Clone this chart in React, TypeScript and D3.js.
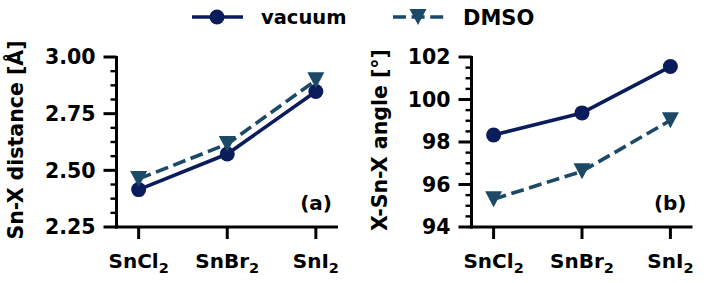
import React from 'react';
import * as d3 from 'd3';

const categories = ['SnCl', 'SnBr', 'SnI'];
const distVacuum = [2.415, 2.572, 2.848];
const distDMSO = [2.462, 2.616, 2.897];
const angleVacuum = [98.33, 99.37, 101.55];
const angleDMSO = [95.31, 96.62, 99.02];

const distTicks = [2.25, 2.5, 2.75, 3.0];
const angleTicks = [94, 96, 98, 100, 102];

const seriesNames = ['vacuum', 'DMSO'];
const VAC = '#0b1c5c';
const DMSO = '#1c4a66';
const FONT = '"DejaVu Sans", sans-serif';

const W = 706;
const H = 283;
const TOP = 57;
const BOTTOM = 227;

interface PanelProps {
  x0: number;
  x1: number;
  domain: [number, number];
  ticks: number[];
  fmt: (v: number) => string;
  vac: number[];
  dmso: number[];
  ylabel: string;
  labelX: number;
  tag: string;
}

const triangle = (s: number) => `M${-s / 2},${-s / 2 + 0.5}L${s / 2},${-s / 2 + 0.5}L0,${s / 2 - 0.5}Z`;

const Panel: React.FC<PanelProps> = ({ x0, x1, domain, ticks, fmt, vac, dmso, ylabel, labelX, tag }) => {
  const x = d3.scaleLinear().domain([-0.25, 2.25]).range([x0, x1]);
  const y = d3.scaleLinear().domain(domain).range([BOTTOM, TOP]);
  const step = ticks[1] - ticks[0];
  const minor: number[] = [];
  for (let i = 0; i < ticks.length - 1; i++) {
    for (let k = 1; k < 4; k++) minor.push(ticks[i] + (step * k) / 4);
  }
  const line = d3.line<number>().x((_, i) => x(i)).y(d => y(d));

  return (
    <g>
      {/* data */}
      <path d={line(vac) || ''} fill="none" stroke={VAC} strokeWidth={3.6} strokeLinejoin="round" />
      {vac.map((v, i) => (
        <circle key={'c' + i} cx={x(i)} cy={y(v)} r={7.5} fill={VAC} />
      ))}
      <path d={line(dmso) || ''} fill="none" stroke={DMSO} strokeWidth={3.6} strokeDasharray="13 5.6" />
      {dmso.map((v, i) => (
        <path key={'t' + i} d={triangle(17)} transform={`translate(${x(i)},${y(v)})`} fill={DMSO} />
      ))}

      {/* axes */}
      <line x1={x0} x2={x0} y1={TOP - 1} y2={BOTTOM + 1.5} stroke="#000" strokeWidth={3} />
      <line x1={x0 - 1.5} x2={x1} y1={BOTTOM} y2={BOTTOM} stroke="#000" strokeWidth={3} />
      {ticks.map(t => (
        <g key={t}>
          <line x1={x0 - 13} x2={x0} y1={y(t)} y2={y(t)} stroke="#000" strokeWidth={3} />
          <text x={x0 - 21} y={y(t)} dy="0.36em" textAnchor="end" fontSize={20.5} fontWeight="bold" fontFamily={FONT}>
            {fmt(t)}
          </text>
        </g>
      ))}
      {minor.map(t => (
        <line key={'m' + t} x1={x0 - 6} x2={x0} y1={y(t)} y2={y(t)} stroke="#000" strokeWidth={2.4} />
      ))}
      {categories.map((c, i) => (
        <g key={c}>
          <line x1={x(i)} x2={x(i)} y1={BOTTOM} y2={BOTTOM + 12} stroke="#000" strokeWidth={3} />
          <text x={x(i)} y={268} textAnchor="middle" fontSize={20} fontWeight="bold" fontFamily={FONT}>
            {c}
            <tspan fontSize={14.5} dy={5}>2</tspan>
          </text>
        </g>
      ))}
      <text
        transform={`translate(${labelX},${(TOP + BOTTOM) / 2 - 2}) rotate(-90)`}
        textAnchor="middle"
        fontSize={20.5}
        fontWeight="bold"
        fontFamily={FONT}
      >
        {ylabel}
      </text>
      <text x={x1 - 6} y={210} textAnchor="end" fontSize={20} fontWeight="bold" fontFamily={FONT}>
        {tag}
      </text>
    </g>
  );
};

export default function App() {
  return (
    <div style={{ position: 'absolute', left: 0, top: 0 }}>
      <svg width={W} height={H} style={{ display: 'block', background: '#fff' }}>
        {/* legend */}
        <line x1={192} x2={243} y1={17} y2={17} stroke={VAC} strokeWidth={3.6} />
        <circle cx={217} cy={17} r={7.5} fill={VAC} />
        <text x={261} y={24} fontSize={19.5} fontWeight="bold" fontFamily={FONT}>{seriesNames[0]}</text>
        <line x1={393} x2={448} y1={17} y2={17} stroke={DMSO} strokeWidth={3.6} strokeDasharray="13 5.6" />
        <path d={triangle(17)} transform="translate(418,17)" fill={DMSO} />
        <text x={463} y={24.5} fontSize={21} fontWeight="bold" fontFamily={FONT}>{seriesNames[1]}</text>

        <Panel
          x0={116.5}
          x1={338}
          domain={[2.25, 3.0]}
          ticks={distTicks}
          fmt={d3.format('.2f')}
          vac={distVacuum}
          dmso={distDMSO}
          ylabel="Sn-X distance [Å]"
          labelX={23}
          tag="(a)"
        />
        <Panel
          x0={471.5}
          x1={692.5}
          domain={[94, 102]}
          ticks={angleTicks}
          fmt={d3.format('d')}
          vac={angleVacuum}
          dmso={angleDMSO}
          ylabel="X-Sn-X angle [°]"
          labelX={387}
          tag="(b)"
        />
      </svg>
    </div>
  );
}
